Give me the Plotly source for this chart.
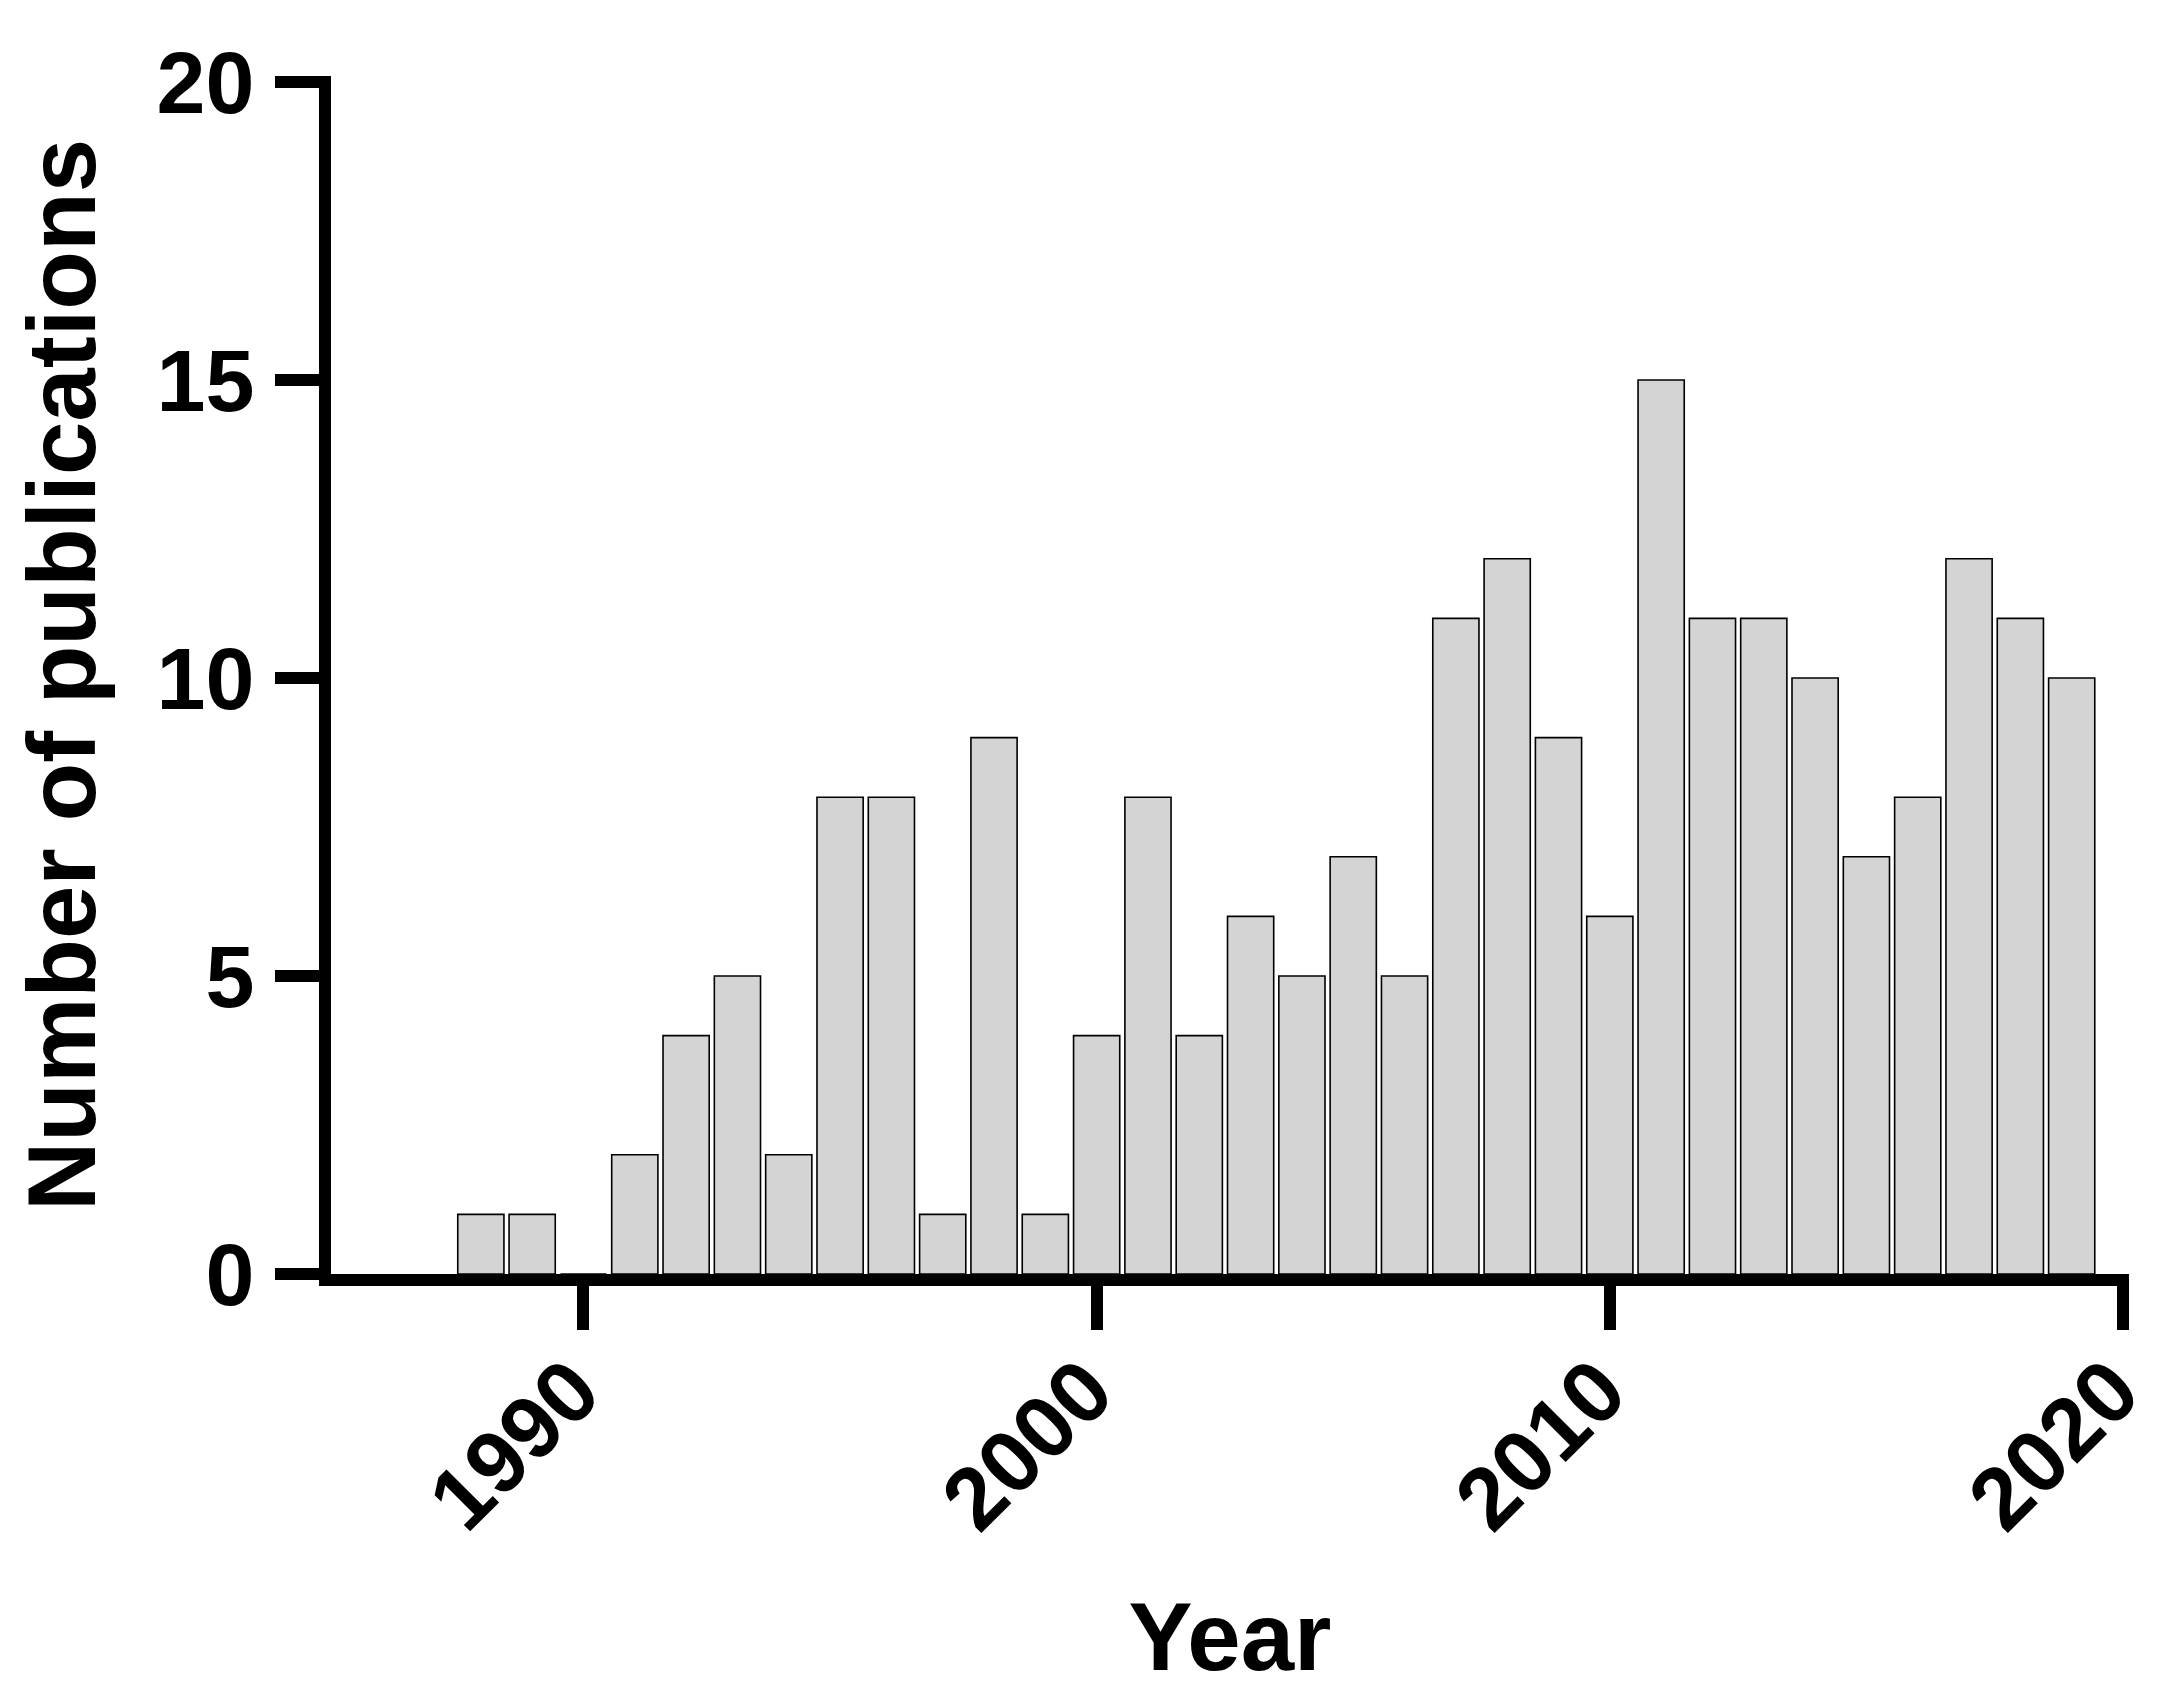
import plotly.graph_objects as go

years = list(range(1988, 2020))
publications = [1, 1, 0, 2, 4, 5, 2, 8, 8, 1, 9, 1, 4, 8, 4, 6, 5, 7, 5,
                11, 12, 9, 6, 15, 11, 11, 10, 7, 8, 12, 11, 10]
x_ticks = [1990, 2000, 2010, 2020]
y_ticks = [0, 5, 10, 15, 20]

FONT = "Liberation Sans, Arial, sans-serif"

fig = go.Figure(
    go.Bar(
        x=years,
        y=publications,
        width=0.9,
        marker=dict(color="#d4d4d4", line=dict(color="#000000", width=1.6)),
    )
)

fig.update_layout(
    width=2168,
    height=1704,
    margin=dict(l=323, r=47, t=68, b=438),
    paper_bgcolor="white",
    plot_bgcolor="white",
    showlegend=False,
    font=dict(family=FONT, color="black"),
)

fig.update_xaxes(
    range=[1985.08, 2020.117],
    tickvals=x_ticks,
    ticktext=[str(v) for v in x_ticks],
    tickangle=-45,
    ticks="outside",
    ticklen=44,
    tickwidth=12,
    tickcolor="black",
    ticklabelstandoff=-26,
    ticklabelshift=-10,
    showline=True,
    linewidth=12,
    linecolor="black",
    showgrid=False,
    zeroline=False,
    tickfont=dict(family=FONT, size=88, weight="bold", color="black"),
    title=dict(text="Year", font=dict(family=FONT, size=96, weight="bold", color="black"), standoff=60),
)

fig.update_yaxes(
    range=[0, 20.1],
    tickvals=y_ticks,
    ticktext=[str(v) for v in y_ticks],
    ticks="outside",
    ticklen=44,
    tickwidth=12,
    tickcolor="black",
    ticklabelstandoff=3,
    showline=True,
    linewidth=12,
    linecolor="black",
    showgrid=False,
    zeroline=False,
    tickfont=dict(family=FONT, size=88, weight="bold", color="black"),
    title=dict(text="Number of publications", font=dict(family=FONT, size=96, weight="bold", color="black"), standoff=40),
)

fig.write_html("out.html")
